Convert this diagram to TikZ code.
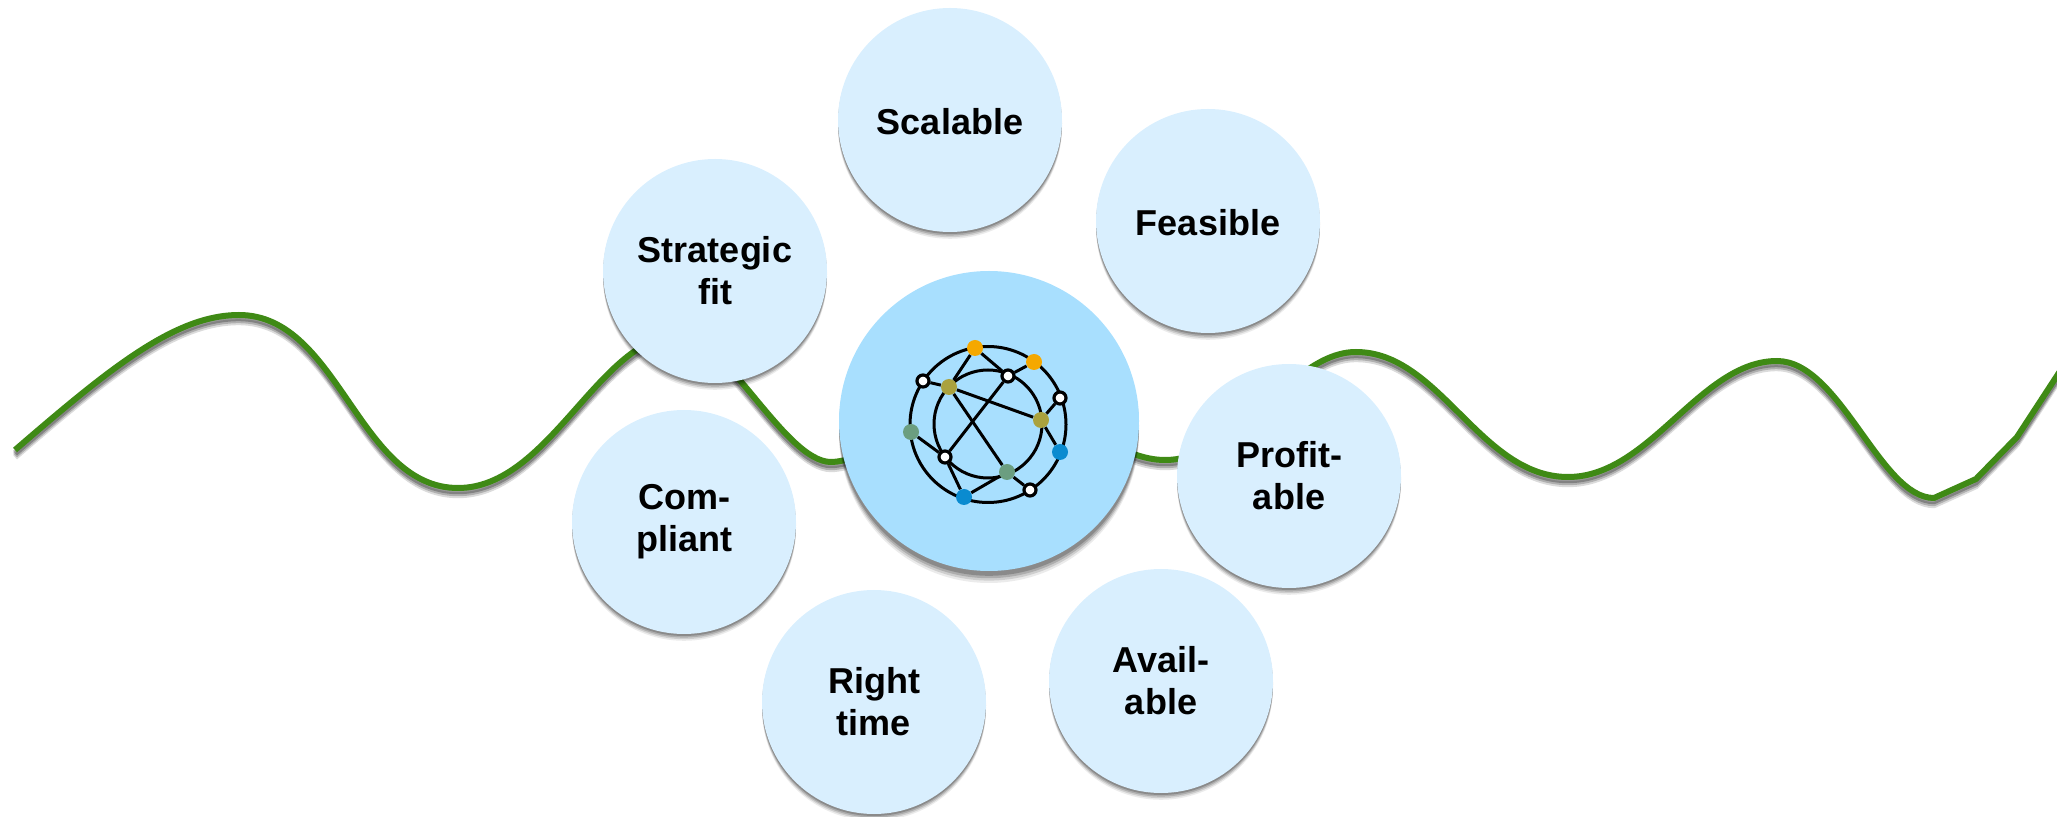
\documentclass[tikz,border=0pt]{standalone}
\usepackage{fontspec}
\setmainfont{Liberation Sans}
\usepackage{tikz}
\usetikzlibrary{shadows}
\definecolor{LightBlue}{RGB}{217,239,254}
\definecolor{HubBlue}{RGB}{168,223,254}
\definecolor{WaveGreen}{RGB}{63,138,21}
\definecolor{DotOrange}{RGB}{245,168,0}
\definecolor{DotOlive}{RGB}{170,162,62}
\definecolor{DotTeal}{RGB}{107,158,128}
\definecolor{DotBlue}{RGB}{10,139,208}
\newcommand{\wavepath}{(w1) .. controls (110,368) and (175,315) .. (w2)
      .. controls (339,315) and (358,488) .. (w3)
      .. controls (550,488) and (600,335) .. (w4)
      .. controls (725,335) and (785,462) .. (w5)
      .. controls (860,462) and (950,420) .. (w6)
      .. controls (1090,420) and (1120,460) .. (w7)
      .. controls (1240,460) and (1290,352) .. (w8)
      .. controls (1440,352) and (1480,477) .. (w9)
      .. controls (1650,477) and (1700,361) .. (w10)
      .. controls (1840,361) and (1880,498) .. (w11)
      -- (w12) -- (w13) -- (w14)}
\tikzset{
  softshadow/.style={general shadow={shadow yshift=-3.4pt,fill=black,opacity=.08},
    general shadow={shadow yshift=-2.6pt,fill=black,opacity=.12},
    general shadow={shadow yshift=-1.8pt,fill=black,opacity=.16},
    general shadow={shadow yshift=-1pt,fill=black,opacity=.2}},
  hubshadow/.style={general shadow={shadow yshift=-6pt,fill=black,opacity=.08},
    general shadow={shadow yshift=-4.8pt,fill=black,opacity=.12},
    general shadow={shadow yshift=-3.6pt,fill=black,opacity=.16},
    general shadow={shadow yshift=-2.4pt,fill=black,opacity=.2}},
  item/.style={circle,fill=LightBlue,minimum size=112pt,inner sep=0pt,align=center,
    font=\fontsize{18}{21}\selectfont\bfseries,softshadow,
    execute at begin node={\rule{0pt}{15pt}}},
  hub/.style={circle,fill=HubBlue,minimum size=150pt,inner sep=0pt,hubshadow},
  ring/.style={circle,draw=black,line width=1.5pt,inner sep=0pt},
  dot/.style={circle,fill=#1,minimum size=8pt,inner sep=0pt},
  hollow/.style={circle,draw=black,fill=white,line width=1.6pt,minimum size=6pt,inner sep=0pt},
  link/.style={draw=black,line width=1.5pt},
  wave/.style={draw=WaveGreen,line width=3pt,line join=round},
  waveshadow/.style={draw=black,line width=3pt,line join=round,opacity=#1},
}
\begin{document}
\begin{tikzpicture}[x=0.5pt,y=-0.5pt]
    \useasboundingbox (0,0) rectangle (2057,817);

    % wave behind the circles
    \coordinate (w1) at (15,450);
    \coordinate (w2) at (239,315);
    \coordinate (w3) at (458,488);
    \coordinate (w4) at (680,335);
    \coordinate (w5) at (831,462);
    \coordinate (w6) at (1000,420);
    \coordinate (w7) at (1165,460);
    \coordinate (w8) at (1356,352);
    \coordinate (w9) at (1568,477);
    \coordinate (w10) at (1777,361);
    \coordinate (w11) at (1934,498);
    \coordinate (w12) at (1976,479);
    \coordinate (w13) at (2017,437);
    \coordinate (w14) at (2066,362);
    \begin{scope}[transform canvas={yshift=-3.6pt}]
      \draw[waveshadow=.14] \wavepath;
    \end{scope}
    \begin{scope}[transform canvas={yshift=-2.6pt}]
      \draw[waveshadow=.2] \wavepath;
    \end{scope}
    \begin{scope}[transform canvas={yshift=-1.6pt}]
      \draw[waveshadow=.26] \wavepath;
    \end{scope}
    \draw[wave] \wavepath;

    \node[item] (scalable) at (950,120) {Scalable};
    \node[item] (feasible) at (1208,221) {Feasible};
    \node[item] (strategic) at (715,271) {Strategic\\fit};
    \node[item] (compliant) at (684,522) {Com-\\pliant};
    \node[item] (righttime) at (874,702) {Right\\time};
    \node[item] (available) at (1161,681) {Avail-\\able};
    \node[item] (profitable) at (1289,476) {Profit-\\able};
    \node[hub] (hub) at (989,421) {};

    % network icon
    \node[ring,minimum size=78pt] (outer) at (988,424.5) {};
    \node[ring,minimum size=54pt] (inner) at (988,424) {};
    \node[dot=DotOrange] (n1) at (975,348) {};
    \node[dot=DotOrange] (n2) at (1034,362) {};
    \node[hollow] (n3) at (1008,376) {};
    \node[hollow] (n4) at (923,381) {};
    \node[dot=DotOlive] (n5) at (949,387) {};
    \node[hollow] (n6) at (1060,398) {};
    \node[dot=DotOlive] (n7) at (1041,420) {};
    \node[dot=DotTeal] (n8) at (911,432) {};
    \node[dot=DotBlue] (n9) at (1060,452) {};
    \node[hollow] (n10) at (945,457) {};
    \node[dot=DotTeal] (n11) at (1007,472) {};
    \node[hollow] (n12) at (1030,490) {};
    \node[dot=DotBlue] (n13) at (964,497) {};

    \draw[link] (n4) to (n5);
    \draw[link] (n5) to (n1);
    \draw[link] (n1) to (n3);
    \draw[link] (n3) to (n2);
    \draw[link] (n5) to (n11);
    \draw[link] (n5) to (n7);
    \draw[link] (n3) to (n10);
    \draw[link] (n8) to (n10);
    \draw[link] (n10) to (n13);
    \draw[link] (n13) to (n11);
    \draw[link] (n11) to (n12);
    \draw[link] (n7) to (n6);
    \draw[link] (n7) to (n9);
\end{tikzpicture}
\end{document}
